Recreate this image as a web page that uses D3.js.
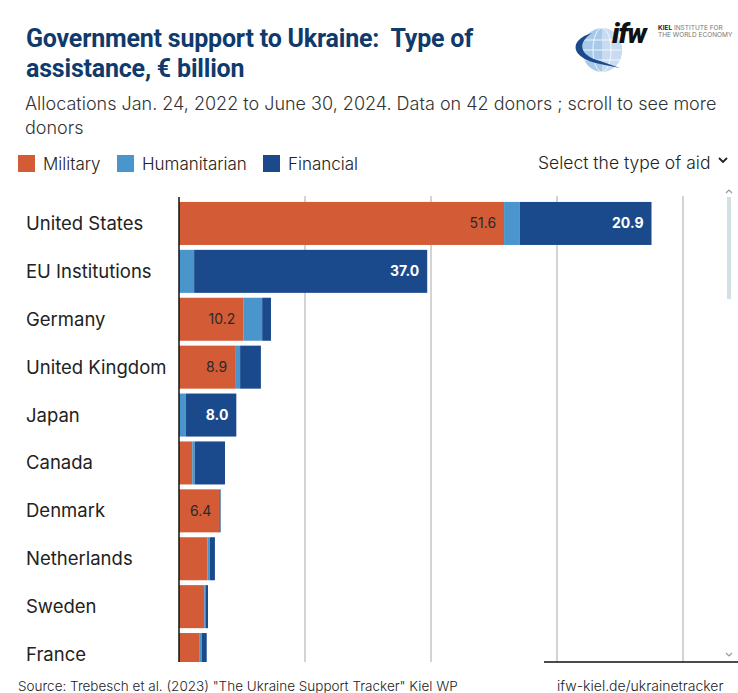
<!DOCTYPE html>
<html>
<head>
<meta charset="utf-8">
<script src="https://cdn.jsdelivr.net/npm/d3@7"></script>
<style>
  html, body { margin: 0; padding: 0; background: #fff; }
  svg { display: block; }
</style>
</head>
<body>
<svg id="chart" width="738" height="693"></svg>
<script>
const countries = ["United States", "EU Institutions", "Germany", "United Kingdom", "Japan", "Canada", "Denmark", "Netherlands", "Sweden", "France"];
const military = [51.6, 0, 10.2, 8.9, 0, 2.1, 6.4, 4.5, 4.0, 3.2];
const humanitarian = [2.5, 2.4, 3.0, 0.8, 1.1, 0.4, 0.0, 0.4, 0.2, 0.4];
const financial = [20.9, 37.0, 1.4, 3.3, 8.0, 4.8, 0.2, 0.8, 0.4, 0.8];
const seriesKeys = ["Military", "Humanitarian", "Financial"];
const seriesColors = ["#d35b36", "#4b95cd", "#1b4a8c"];
const gridTicks = [0, 20, 40, 60, 80];

const rows = countries.map((c, i) => ({ country: c, Military: military[i], Humanitarian: humanitarian[i], Financial: financial[i] }));

const svg = d3.select("#chart");
const FONT = "Inter, 'Noto Sans', sans-serif";

// Title
const title = svg.append("text").attr("x", 26).attr("font-family", "Roboto, sans-serif")
  .attr("font-weight", 700).attr("font-size", 25).attr("fill", "#0f3a6b").attr("letter-spacing", -0.2);
title.append("tspan").attr("x", 26).attr("y", 47).text("Government support to Ukraine:\u00a0 Type of");
title.append("tspan").attr("x", 26).attr("y", 77).text("assistance, € billion");

// Subtitle
const sub = svg.append("text").attr("font-family", FONT).attr("font-weight", 300)
  .attr("font-size", 18).attr("fill", "#333").attr("letter-spacing", 0);
sub.append("tspan").attr("x", 25).attr("y", 110).text("Allocations Jan. 24, 2022 to June 30, 2024. Data on 42 donors ; scroll to see more");
sub.append("tspan").attr("x", 25).attr("y", 134).text("donors");

// Logo
const logo = svg.append("g");
logo.append("ellipse").attr("cx", 602).attr("cy", 50).attr("rx", 20).attr("ry", 22).attr("fill", "#a9c9ea");
logo.append("path").attr("d", "M602,28 A20,22 0 0,1 602,72 Z").attr("fill", "#c7dcf1");
[-10, 0, 10].forEach(dy => logo.append("line").attr("x1", 583).attr("x2", 621).attr("y1", 50 + dy).attr("y2", 50 + dy).attr("stroke", "#fff").attr("stroke-width", 0.8));
logo.append("ellipse").attr("cx", 602).attr("cy", 50).attr("rx", 9).attr("ry", 22).attr("fill", "none").attr("stroke", "#fff").attr("stroke-width", 0.8);
logo.append("path").attr("d", "M592,33 C568,40 570,58 600,64 L620,68 L600,61 C578,55 578,42 592,33 Z").attr("fill", "#1b4a8c");
logo.append("text").attr("x", 612).attr("y", 43).attr("font-family", "Roboto, sans-serif").attr("font-style", "italic")
  .attr("font-weight", 900).attr("font-size", 28).attr("fill", "#111").attr("letter-spacing", -1).text("ifw");
logo.append("text").attr("x", 658).attr("y", 30).attr("font-family", FONT).attr("font-size", 6.5).attr("fill", "#777")
  .html('<tspan font-weight="700" fill="#222">KIEL</tspan> INSTITUTE FOR');
logo.append("text").attr("x", 658).attr("y", 37).attr("font-family", FONT).attr("font-size", 6.5).attr("fill", "#777").text("THE WORLD ECONOMY");

// Legend
const legendX = [18, 117, 263];
const legend = svg.append("g");
seriesKeys.forEach((k, i) => {
  legend.append("rect").attr("x", legendX[i]).attr("y", 155).attr("width", 17).attr("height", 17).attr("fill", seriesColors[i]);
  legend.append("text").attr("x", legendX[i] + 25).attr("y", 170).attr("font-family", FONT).attr("font-weight", 300)
    .attr("font-size", 17).attr("fill", "#222").text(k);
});

// Select dropdown
svg.append("text").attr("x", 538).attr("y", 169).attr("font-family", FONT).attr("font-weight", 300)
  .attr("font-size", 17.5).attr("fill", "#222").attr("letter-spacing", 0).text("Select the type of aid");
svg.append("path").attr("d", "M719,158 L723,162 L727,158").attr("fill", "none").attr("stroke", "#222").attr("stroke-width", 1.8);

// Scales
const x = d3.scaleLinear().domain([0, 80]).range([179, 683]);
const step = 47.9;
const y = d3.scaleBand().domain(countries).range([199.5, 199.5 + countries.length * step]).paddingInner(0.102).paddingOuter(0.051);

const clipTop = 196, clipBottom = 662;
svg.append("defs").append("clipPath").attr("id", "clip")
  .append("rect").attr("x", 0).attr("y", clipTop).attr("width", 720).attr("height", clipBottom - clipTop);

const plot = svg.append("g").attr("clip-path", "url(#clip)");

// Gridlines
plot.append("g").selectAll("line").data(gridTicks.filter(d => d > 0)).join("line")
  .attr("x1", d => x(d)).attr("x2", d => x(d)).attr("y1", clipTop).attr("y2", clipBottom)
  .attr("stroke", "#a8a8a8").attr("stroke-width", 1);

// Stacked bars
const stack = d3.stack().keys(seriesKeys)(rows);
stack.forEach((layer, li) => {
  plot.append("g").attr("fill", seriesColors[li]).selectAll("rect").data(layer).join("rect")
    .attr("x", d => x(d[0])).attr("width", d => Math.max(0, x(d[1]) - x(d[0])))
    .attr("y", d => y(d.data.country)).attr("height", y.bandwidth());
});

// Value labels
stack.forEach((layer, li) => {
  const dark = li === 0;
  plot.append("g").selectAll("text").data(layer.filter(d => (d[1] - d[0]) >= 6)).join("text")
    .attr("x", d => x(d[1]) - 8).attr("y", d => y(d.data.country) + y.bandwidth() / 2)
    .attr("dy", "0.35em").attr("text-anchor", "end")
    .attr("font-family", FONT).attr("font-size", 14)
    .attr("font-weight", dark ? 400 : 700)
    .attr("fill", dark ? "#2a2a2a" : "#fff")
    .text(d => (d[1] - d[0]).toFixed(1));
});

// Country labels
plot.append("g").selectAll("text").data(countries).join("text")
  .attr("x", 26).attr("y", d => y(d) + y.bandwidth() / 2).attr("dy", "0.35em")
  .attr("font-family", FONT).attr("font-weight", 400).attr("font-size", 18.5).attr("fill", "#222")
  .attr("letter-spacing", 0).text(d => d);

// Axis line
plot.append("line").attr("x1", x(0)).attr("x2", x(0)).attr("y1", 197).attr("y2", clipBottom)
  .attr("stroke", "#111").attr("stroke-width", 1.5);

// Scrollbar
svg.append("path").attr("d", "M726,193 L729,190 L732,193").attr("fill", "none").attr("stroke", "#999").attr("stroke-width", 1.2);
svg.append("rect").attr("x", 727).attr("y", 197).attr("width", 4).attr("height", 102).attr("fill", "#d3dee5");
svg.append("path").attr("d", "M726,653 L729,656 L732,653").attr("fill", "none").attr("stroke", "#999").attr("stroke-width", 1.2);

// Bottom separator
svg.append("line").attr("x1", 544).attr("x2", 738).attr("y1", 662).attr("y2", 662).attr("stroke", "#111").attr("stroke-width", 1.5);

// Footer
svg.append("text").attr("x", 18).attr("y", 691).attr("font-family", FONT).attr("font-weight", 300)
  .attr("font-size", 13.5).attr("fill", "#222").attr("letter-spacing", 0)
  .text('Source: Trebesch et al. (2023) "The Ukraine Support Tracker" Kiel WP');
svg.append("text").attr("x", 557).attr("y", 691).attr("font-family", FONT).attr("font-weight", 300)
  .attr("font-size", 14).attr("fill", "#222").attr("letter-spacing", 0)
  .text("ifw-kiel.de/ukrainetracker");
</script>
</body>
</html>
